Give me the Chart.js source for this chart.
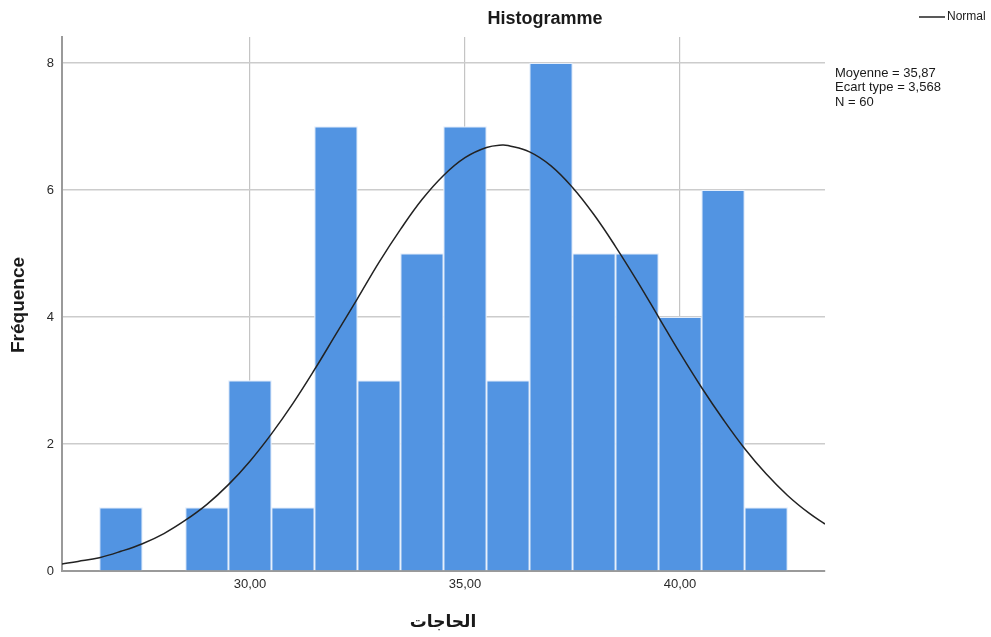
<!DOCTYPE html>
<html>
<head>
<meta charset="utf-8">
<script src="https://cdn.jsdelivr.net/npm/chart.js@4"></script>
<style>
  body { margin: 0; background: #fff; }
  #wrap { width: 991px; height: 637px; }
</style>
</head>
<body>
<div id="wrap"><canvas id="histo"></canvas></div>
<script>
// Bin centres and counts
const binCenters = [27, 28, 29, 30, 31, 32, 33, 34, 35, 36, 37, 38, 39, 40, 41, 42];
const binCounts = [1, 0, 1, 3, 1, 7, 3, 5, 7, 3, 8, 5, 5, 4, 6, 1];
// Normal curve
const curveX = [25.63, 26, 26.5, 27, 27.5, 28, 28.5, 29, 29.5, 30, 30.5, 31, 31.5, 32, 32.5, 33, 33.5, 34, 34.5, 35, 35.5, 35.87, 36, 36.5, 37, 37.5, 38, 38.5, 39, 39.5, 40, 40.5, 41, 41.5, 42, 42.5, 43, 43.37];
const curveY = [0.11, 0.15, 0.21, 0.31, 0.43, 0.59, 0.8, 1.05, 1.36, 1.73, 2.16, 2.64, 3.17, 3.73, 4.29, 4.86, 5.38, 5.85, 6.23, 6.51, 6.67, 6.71, 6.7, 6.6, 6.38, 6.04, 5.61, 5.11, 4.57, 4.0, 3.43, 2.89, 2.39, 1.93, 1.53, 1.19, 0.91, 0.74];
const xTicks = [30, 35, 40];
const yTicks = [0, 2, 4, 6, 8];
const statLines = ["Moyenne = 35,87", "Ecart type = 3,568", "N = 60"];

document.addEventListener("DOMContentLoaded", function () {
  const ctx = document.getElementById("histo").getContext("2d");

  const textPlugin = {
    id: "texts",
    afterDraw(chart) {
      const c = chart.ctx;
      c.save();
      c.fillStyle = "#1a1a1a";
      // title
      c.font = "bold 18px 'Liberation Sans', Arial, sans-serif";
      c.textAlign = "center";
      c.textBaseline = "middle";
      c.fillText("Histogramme", 545, 19);
      // legend
      c.strokeStyle = "#222";
      c.lineWidth = 1.5;
      c.beginPath();
      c.moveTo(919, 17);
      c.lineTo(945, 17);
      c.stroke();
      c.font = "12px 'Liberation Sans', Arial, sans-serif";
      c.textAlign = "left";
      c.fillText("Normal", 947, 17);
      // stats
      c.font = "13px 'Liberation Sans', Arial, sans-serif";
      statLines.forEach((t, i) => c.fillText(t, 835, 73 + i * 14.7));
      // axis titles
      c.font = "bold 19px 'Liberation Sans', Arial, sans-serif";
      c.textAlign = "center";
      c.save();
      c.translate(19, 305);
      c.rotate(-Math.PI / 2);
      c.fillText("Fréquence", 0, 0);
      c.restore();
      c.font = "bold 17px 'DejaVu Sans', sans-serif";
      c.fillText("الحاجات", 443, 623);
      c.restore();
    },
  };

  new Chart(ctx, {
    data: {
      datasets: [
        {
          type: "line",
          label: "Normal",
          data: curveX.map((x, i) => ({ x: x, y: curveY[i] })),
          borderColor: "#222222",
          borderWidth: 1.5,
          pointRadius: 0,
          tension: 0.4,
          order: 0,
        },
        {
          type: "bar",
          label: "Fréquence",
          data: binCenters.map((x, i) => ({ x: x, y: binCounts[i] })),
          backgroundColor: "#5294E2",
          borderColor: "#e4eefb",
          borderWidth: 1.3,
          barPercentage: 1,
          categoryPercentage: 1,
          order: 1,
        },
      ],
    },
    options: {
      responsive: true,
      maintainAspectRatio: false,
      animation: false,
      layout: { padding: { top: 37, right: 166, left: 0, bottom: 0 } },
      scales: {
        x: {
          type: "linear",
          min: 25.63,
          max: 43.37,
          offset: false,
          afterBuildTicks: (scale) => {
            scale.ticks = xTicks.map((v) => ({ value: v }));
          },
          afterFit: (scale) => {
            scale.height = 66;
          },
          ticks: {
            color: "#2a2a2a",
            padding: 6,
            font: { size: 13, family: "'Liberation Sans', Arial, sans-serif" },
            callback: (v) => v.toFixed(2).replace(".", ","),
          },
          grid: { color: "#c4c4c4", lineWidth: 1.2, drawTicks: false, offset: false },
          border: { color: "#9a9a9a", width: 2 },
        },
        y: {
          min: 0,
          max: 8.41,
          afterFit: (scale) => {
            scale.width = 62;
          },
          afterBuildTicks: (scale) => {
            scale.ticks = yTicks.map((v) => ({ value: v }));
          },
          ticks: {
            color: "#2a2a2a",
            padding: 8,
            font: { size: 13, family: "'Liberation Sans', Arial, sans-serif" },
          },
          grid: { color: "#cccccc", lineWidth: 1.5, drawTicks: false },
          border: { color: "#9a9a9a", width: 2 },
        },
      },
      plugins: {
        legend: { display: false },
        tooltip: { enabled: false },
      },
    },
    plugins: [textPlugin],
  });
});
</script>
</body>
</html>
